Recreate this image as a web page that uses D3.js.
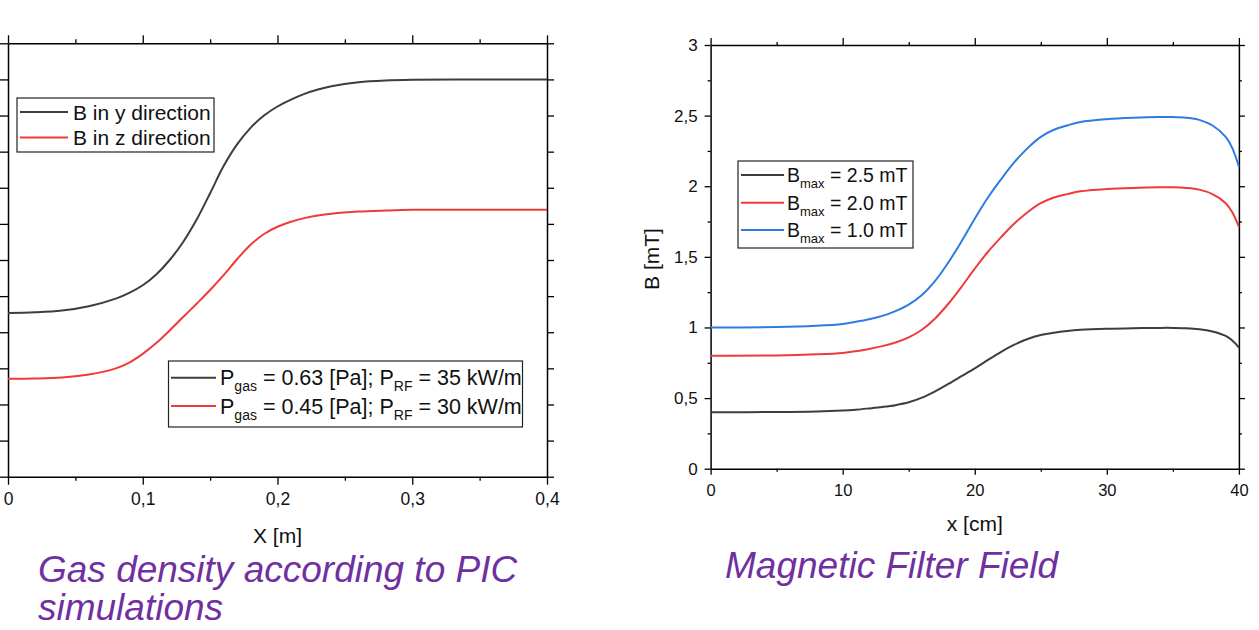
<!DOCTYPE html>
<html>
<head>
<meta charset="utf-8">
<script src="https://cdn.jsdelivr.net/npm/d3@7"></script>
<style>
  body { margin: 0; background: #fff; }
  svg { display: block; font-family: "Liberation Sans", Arial, sans-serif; }
  text { white-space: pre; }
</style>
</head>
<body>
<div class="chart-container"></div>
<script>
//! DATA - left panel (y tick labels are cut off in the original, units arbitrary)
const xMetres = [0, 0.02, 0.04, 0.06, 0.08, 0.09, 0.1, 0.11, 0.12, 0.13, 0.14, 0.15, 0.16, 0.17, 0.18, 0.19, 0.2, 0.21, 0.22, 0.23, 0.24, 0.26, 0.28, 0.3, 0.35, 0.4]
const bY = [4.53, 4.55, 4.6, 4.72, 4.93, 5.09, 5.3, 5.6, 6.0, 6.5, 7.12, 7.85, 8.6, 9.2, 9.66, 10.0, 10.25, 10.44, 10.6, 10.72, 10.81, 10.92, 10.97, 10.99, 11.0, 11.0]
const bZ = [2.71, 2.72, 2.75, 2.83, 3.0, 3.16, 3.4, 3.7, 4.05, 4.42, 4.79, 5.17, 5.58, 6.02, 6.42, 6.72, 6.92, 7.06, 7.16, 7.23, 7.28, 7.34, 7.37, 7.39, 7.39, 7.39]
const leftXMajor = [0, 0.1, 0.2, 0.3, 0.4]
const leftXMinor = [0.05, 0.15, 0.25, 0.35]
const leftYTicks = [0, 1, 2, 3, 4, 5, 6, 7, 8, 9, 10, 11, 12]
const directionLabels = ['B in y direction', 'B in z direction']
const pressureLabels = [
  [['P', 0], ['gas', 1], [' = 0.63 [Pa]; P', 0], ['RF', 1], [' = 35 kW/m', 0]],
  [['P', 0], ['gas', 1], [' = 0.45 [Pa]; P', 0], ['RF', 1], [' = 30 kW/m', 0]]
]

//! DATA - right panel
const xCm = [0, 5, 8, 10, 11, 12, 13, 14, 15, 16, 17, 18, 19, 20, 21, 22, 23, 24, 25, 26, 27, 28, 30, 32, 34, 35, 36, 37, 38, 39, 39.5, 40]
const bMax25 = [0.4, 0.401, 0.405, 0.412, 0.418, 0.427, 0.437, 0.45, 0.47, 0.503, 0.548, 0.6, 0.655, 0.71, 0.77, 0.828, 0.878, 0.918, 0.946, 0.963, 0.975, 0.983, 0.991, 0.995, 0.997, 0.997, 0.995, 0.988, 0.972, 0.94, 0.908, 0.857]
const bMax20 = [0.8, 0.802, 0.81, 0.82, 0.832, 0.848, 0.868, 0.894, 0.93, 0.984, 1.064, 1.168, 1.288, 1.416, 1.536, 1.64, 1.736, 1.816, 1.88, 1.92, 1.944, 1.964, 1.98, 1.988, 1.992, 1.992, 1.988, 1.976, 1.944, 1.88, 1.816, 1.712]
const bMax10 = [1.0, 1.003, 1.012, 1.025, 1.04, 1.058, 1.082, 1.116, 1.162, 1.23, 1.33, 1.46, 1.61, 1.77, 1.92, 2.05, 2.17, 2.27, 2.35, 2.4, 2.43, 2.455, 2.475, 2.485, 2.49, 2.49, 2.485, 2.47, 2.43, 2.35, 2.27, 2.14]
const rightXMajor = [0, 10, 20, 30, 40]
const rightXMinor = [5, 15, 25, 35]
const rightYMajor = [0, 0.5, 1, 1.5, 2, 2.5, 3]
const rightYMinor = [0.25, 0.75, 1.25, 1.75, 2.25, 2.75]
const bMaxLabels = ['2.5', '2.0', '1.0']

//! CONSTS
const width = 1259
const height = 630
const gray = '#3d3d3d'
const red = '#f03a3a'
const blue = '#2f7be3'
const purple = '#7030a0'
const comma = d => String(d).replace('.', ',')

//! SVG
const svg = d3.select('.chart-container')
  .append('svg')
  .attr('width', width)
  .attr('height', height)

//! SCALES
const xLeft = d3.scaleLinear().domain([0, 0.4]).range([8, 547])
const yLeft = d3.scaleLinear().domain([0, 12]).range([476.7, 43.3])
const xRight = d3.scaleLinear().domain([0, 40]).range([710.6, 1238.9])
const yRight = d3.scaleLinear().domain([0, 3]).range([468.7, 45])

//! AXIS HELPER - one side of the box, major + minor ticks
function side(axisFn, scale, tx, ty, major, minor, bigTick, smallTick, fmt, pad, fontSize) {
  const g = svg.append('g')
    .attr('transform', `translate(${tx},${ty})`)
    .call(axisFn(scale).tickValues(major).tickSize(bigTick).tickSizeOuter(0)
      .tickPadding(pad).tickFormat(fmt || (() => '')))
  g.select('.domain').attr('stroke', '#000').attr('stroke-width', 1.5)
  g.selectAll('.tick line').attr('stroke', '#000').attr('stroke-width', 1.3)
  g.selectAll('text').attr('fill', '#111').attr('font-size', fontSize)
    .attr('font-family', '"Liberation Sans", Arial, sans-serif')
  if (minor.length) {
    const m = svg.append('g')
      .attr('transform', `translate(${tx},${ty})`)
      .call(axisFn(scale).tickValues(minor).tickSize(smallTick).tickSizeOuter(0).tickFormat(() => ''))
    m.select('.domain').remove()
    m.selectAll('.tick line').attr('stroke', '#000').attr('stroke-width', 1.3)
  }
}

//! LEFT PANEL AXES
side(d3.axisBottom, xLeft, 0, yLeft(0), leftXMajor, leftXMinor, 8, 4, comma, 8, '17.5px')
side(d3.axisTop, xLeft, 0, yLeft(12), leftXMajor, leftXMinor, 8, 4, null, 4, '17px')
side(d3.axisLeft, yLeft, xLeft(0), 0, leftYTicks, [], 8, 0, null, 4, '17px')
side(d3.axisRight, yLeft, xLeft(0.4), 0, leftYTicks, [], 7, 0, null, 4, '17px')

//! RIGHT PANEL AXES
side(d3.axisBottom, xRight, 0, yRight(0), rightXMajor, rightXMinor, 6, 3, d => d, 10, '16.5px')
side(d3.axisTop, xRight, 0, yRight(3), rightXMajor, rightXMinor, 7, 3, null, 4, '16px')
side(d3.axisLeft, yRight, xRight(0), 0, rightYMajor, rightYMinor, 6, 3, comma, 7, '17px')
side(d3.axisRight, yRight, xRight(40), 0, rightYMajor, rightYMinor, 6, 3, null, 4, '16px')

//! AXIS TITLES
svg.append('text')
  .attr('x', (xLeft(0) + xLeft(0.4)) / 2).attr('y', 543)
  .attr('text-anchor', 'middle').attr('font-size', '21px').attr('fill', '#111')
  .text('X [m]')
svg.append('text')
  .attr('x', (xRight(0) + xRight(40)) / 2).attr('y', 531)
  .attr('text-anchor', 'middle').attr('font-size', '21px').attr('fill', '#111')
  .text('x [cm]')
svg.append('text')
  .attr('transform', 'translate(659,259) rotate(-90)')
  .attr('text-anchor', 'middle').attr('font-size', '21px').attr('fill', '#111')
  .text('B [mT]')

//! LINES
const lineFrom = (xs, sx, sy) => d3.line()
  .x((d, i) => sx(xs[i]))
  .y(d => sy(d))
  .curve(d3.curveCatmullRom.alpha(0.5))

const series = [
  { ys: bY, xs: xMetres, sx: xLeft, sy: yLeft, color: gray },
  { ys: bZ, xs: xMetres, sx: xLeft, sy: yLeft, color: red },
  { ys: bMax25, xs: xCm, sx: xRight, sy: yRight, color: gray },
  { ys: bMax20, xs: xCm, sx: xRight, sy: yRight, color: red },
  { ys: bMax10, xs: xCm, sx: xRight, sy: yRight, color: blue }
]

svg.selectAll('path.curve')
  .data(series)
  .enter()
  .append('path')
  .attr('class', 'curve')
  .attr('fill', 'none')
  .attr('stroke', d => d.color)
  .attr('stroke-width', 2)
  .attr('d', d => lineFrom(d.xs, d.sx, d.sy)(d.ys))

//! LEGENDS
function legend(x, y, w, h, rows, colors, lineX0, lineX1, textX, rowY, fontSize, subSize) {
  const g = svg.append('g')
  g.append('rect')
    .attr('x', x).attr('y', y).attr('width', w).attr('height', h)
    .attr('fill', '#fff').attr('stroke', '#222').attr('stroke-width', 1.2)
  rows.forEach((parts, i) => {
    g.append('line')
      .attr('x1', lineX0).attr('x2', lineX1)
      .attr('y1', rowY[i]).attr('y2', rowY[i])
      .attr('stroke', colors[i]).attr('stroke-width', 2)
    const t = g.append('text')
      .attr('x', textX).attr('y', rowY[i] + fontSize * 0.36)
      .attr('font-size', fontSize + 'px').attr('fill', '#111')
    let shifted = false
    parts.forEach(([s, sub]) => {
      const span = t.append('tspan').text(s)
      if (sub) {
        span.attr('font-size', subSize + 'px').attr('dy', 6)
        shifted = true
      } else if (shifted) {
        span.attr('dy', -6)
        shifted = false
      }
    })
  })
}

legend(17, 98, 197, 54, directionLabels.map(s => [[s, 0]]), [gray, red],
  20, 68, 73, [112, 137.5], 21, 13)
legend(168.5, 361, 354, 66, pressureLabels, [gray, red],
  171, 216, 220, [377.7, 406], 21.5, 14)
legend(738, 161, 175, 87, bMaxLabels.map(v => [['B', 0], ['max', 1], [` = ${v} mT`, 0]]),
  [gray, red, blue], 741, 784, 787, [175, 202.7, 230], 19.5, 13)

//! CAPTIONS
const caption = (x, y, s) => svg.append('text')
  .attr('x', x).attr('y', y)
  .attr('font-size', '37px').attr('font-style', 'italic')
  .attr('fill', purple)
  .text(s)

caption(38, 582, 'Gas density according to PIC')
caption(38, 620, 'simulations')
caption(725, 578, 'Magnetic Filter Field')
</script>
</body>
</html>
